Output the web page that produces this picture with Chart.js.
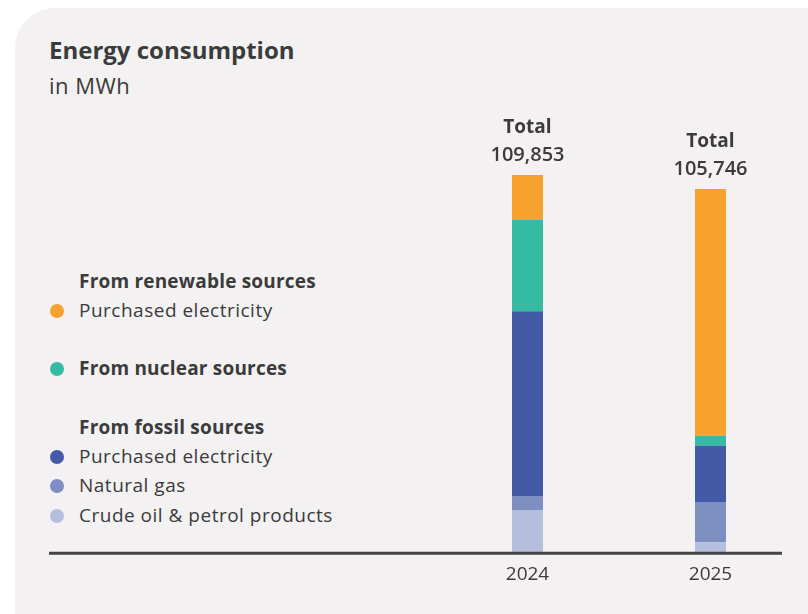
<!DOCTYPE html>
<html>
<head>
<meta charset="utf-8">
<script src="https://cdn.jsdelivr.net/npm/chart.js@4.4.1/dist/chart.umd.min.js"></script>
<style>
  html, body { margin: 0; padding: 0; background: #ffffff; overflow: hidden; }
  #page { position: relative; width: 808px; height: 614px; font-family: "Open Sans", Lato, sans-serif; color: #3b3b3b; }
  #panel { position: absolute; left: 15px; top: 8px; width: 840px; height: 660px; background: #f3f1f2; border-top-left-radius: 40px; }
  #chart { position: absolute; left: 0; top: 0; }
  .t { position: absolute; white-space: nowrap; }
  .title { left: 49px; top: 34px; font-size: 24px; font-weight: 700; line-height: 32px; }
  .sub { left: 49px; top: 70px; font-size: 22px; line-height: 30px; letter-spacing: 0.5px; }
  .lg { left: 79px; font-size: 19px; line-height: 24px; letter-spacing: 0.5px; }
  .lg.b { font-weight: 700; letter-spacing: 0.2px; }
  .dot { position: absolute; left: 50px; width: 14px; height: 14px; border-radius: 50%; }
</style>
</head>
<body>
<div id="page">
  <div id="panel"></div>
  <div class="t title">Energy consumption</div>
  <div class="t sub">in MWh</div>
  <div id="legend"></div>
  <canvas id="chart" width="808" height="614"></canvas>
</div>
<script>
"use strict";

let years = ["2024", "2025"];
let totals = [109853, 105746];

// stacked from the bottom up
let crudeOil = [12530, 3205];
let naturalGas = [4080, 11655];
let fossilElectricity = [53620, 16320];
let nuclear = [26510, 2915];
let renewableElectricity = [13113, 71651];

let colors = {
    crude: "#b6bedd",
    gas: "#7d8ec1",
    fossil: "#445aa6",
    nuclear: "#35bba3",
    renewable: "#f6a22d"
};

// legend rows: text, bold?, dot colour, centre y
let legendRows = [
    ["From renewable sources", true, null, 282],
    ["Purchased electricity", false, colors.renewable, 311],
    ["From nuclear sources", true, colors.nuclear, 369],
    ["From fossil sources", true, null, 428],
    ["Purchased electricity", false, colors.fossil, 457],
    ["Natural gas", false, colors.gas, 486],
    ["Crude oil & petrol products", false, colors.crude, 516]
];

let legend = document.getElementById("legend");
for (let row of legendRows) {
    let div = document.createElement("div");
    div.className = row[1] ? "t lg b" : "t lg";
    div.style.top = (row[3] - 13) + "px";
    div.textContent = row[0];
    legend.appendChild(div);
    if (row[2]) {
        let dot = document.createElement("div");
        dot.className = "dot";
        dot.style.top = (row[3] - 7) + "px";
        dot.style.background = row[2];
        legend.appendChild(dot);
    }
}

const totalLabels = {
    id: "totalLabels",
    afterDatasetsDraw(chart) {
        let ctx = chart.ctx;
        let last = chart.getDatasetMeta(chart.data.datasets.length - 1);
        ctx.save();
        ctx.fillStyle = "#3b3b3b";
        ctx.textAlign = "center";
        ctx.textBaseline = "middle";
        for (let i = 0; i < years.length; i++) {
            let bar = last.data[i];
            ctx.font = "700 19px 'Open Sans'";
            ctx.fillText("Total", bar.x, bar.y - 47);
            ctx.font = "600 20px 'Open Sans'";
            ctx.fillText(totals[i].toLocaleString("en-US"), bar.x, bar.y - 20);
        }
        ctx.restore();
    }
};

const baseline = {
    id: "baseline",
    afterDatasetsDraw(chart) {
        let ctx = chart.ctx;
        let y = chart.scales.y.getPixelForValue(0);
        ctx.save();
        ctx.strokeStyle = "#444444";
        ctx.lineWidth = 3;
        ctx.beginPath();
        ctx.moveTo(49, y);
        ctx.lineTo(782, y);
        ctx.stroke();
        ctx.restore();
    }
};

function ds(label, data, color) {
    return {
        label: label,
        data: data,
        backgroundColor: color,
        borderWidth: 0,
        barPercentage: 31 / 183,
        categoryPercentage: 1
    };
}

new Chart(document.getElementById("chart"), {
    type: "bar",
    data: {
        labels: years,
        datasets: [
            ds("Crude oil & petrol products", crudeOil, colors.crude),
            ds("Natural gas", naturalGas, colors.gas),
            ds("Purchased electricity (fossil)", fossilElectricity, colors.fossil),
            ds("From nuclear sources", nuclear, colors.nuclear),
            ds("Purchased electricity (renewable)", renewableElectricity, colors.renewable)
        ]
    },
    options: {
        responsive: false,
        animation: false,
        layout: { padding: { left: 436, right: 6, top: 140, bottom: 18 } },
        plugins: {
            legend: { display: false },
            tooltip: { enabled: false }
        },
        scales: {
            x: {
                stacked: true,
                grid: { display: false, drawTicks: false },
                border: { display: false },
                ticks: { padding: 10, color: "#3b3b3b", font: { family: "'Open Sans'", size: 19 } }
            },
            y: {
                stacked: true,
                display: false,
                min: 0,
                max: 120000
            }
        }
    },
    plugins: [totalLabels, baseline]
});
</script>
</body>
</html>
